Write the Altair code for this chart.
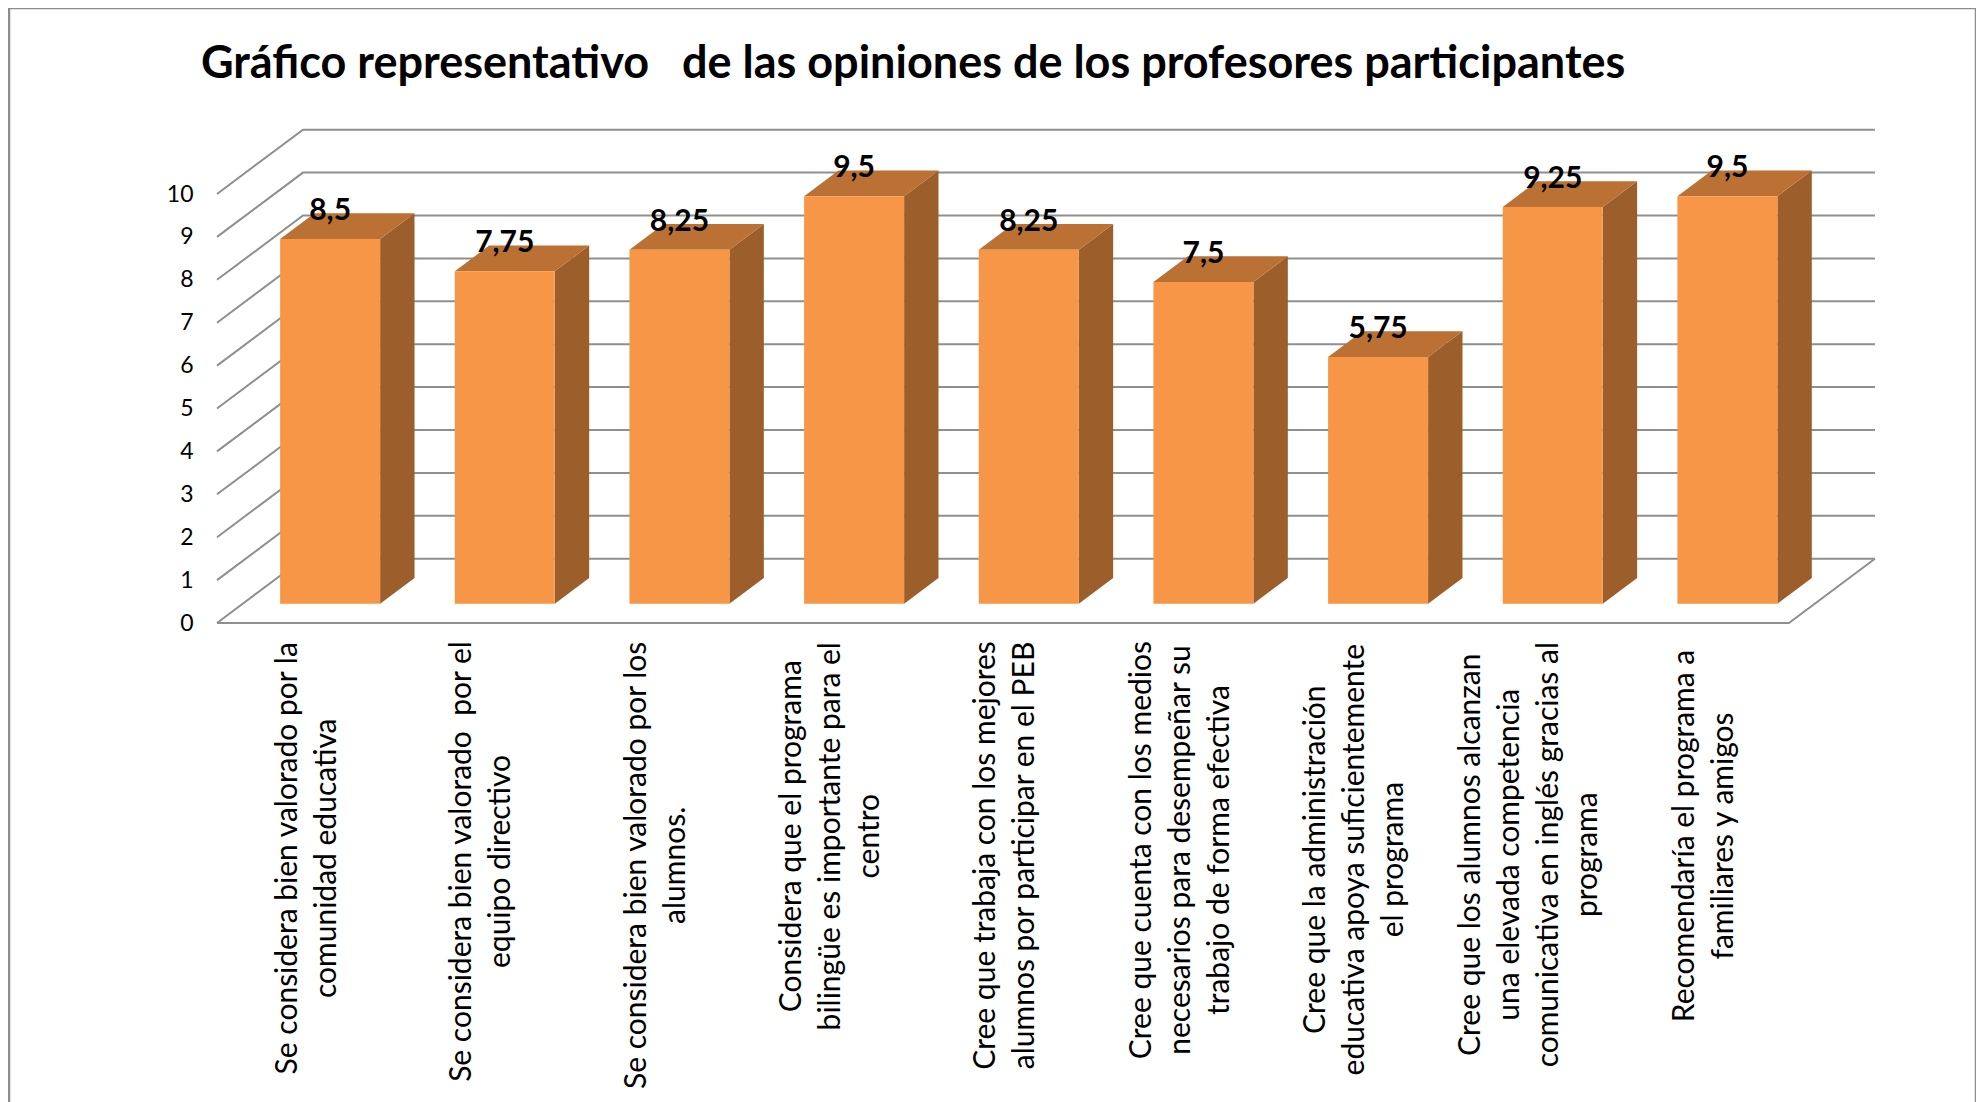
import altair as alt
import pandas as pd

title_text = "Gráfico representativo\u00a0\u00a0 de las opiniones de los profesores participantes"
values = [8.5, 7.75, 8.25, 9.5, 8.25, 7.5, 5.75, 9.25, 9.5]
value_labels = ["8,5", "7,75", "8,25", "9,5", "8,25", "7,5", "5,75", "9,25", "9,5"]
categories = [
    "Se considera bien valorado por la\ncomunidad educativa",
    "Se considera bien valorado\u00a0 por el\nequipo directivo",
    "Se considera bien valorado por los\nalumnos.",
    "Considera que el programa\nbilingüe es importante para el\ncentro",
    "Cree que trabaja con los mejores\nalumnos por participar en el PEB",
    "Cree que cuenta con los medios\nnecesarios para desempeñar su\ntrabajo de forma efectiva",
    "Cree que la administración\neducativa apoya suficientemente\nel programa",
    "Cree que los alumnos alcanzan\nuna elevada competencia\ncomunicativa en inglés gracias al\nprograma",
    "Recomendaría el programa a\nfamiliares y amigos",
]
ticks = list(range(11))

# Oblique projection of the Excel-style 3D column chart
BAND_PX, UNIT_PX = 174.66, 42.9
X0_PX, Y0_PX = 217.0, 623.0
LEFT_PX, RIGHT_PX, TOP_PX, BOTTOM_PX = 9.0, 1976.0, 8.0, 1102.0
DX, DY = 86 / BAND_PX, 64.3 / UNIT_PX          # full wall depth in data units
Z0, Z1 = 0.3, 0.7                               # depth occupied by the columns
BAR = 100 / BAND_PX
LINE_H = 39
n = len(values)

x_dom = [(LEFT_PX - X0_PX) / BAND_PX, (RIGHT_PX - X0_PX) / BAND_PX]
y_dom = [(Y0_PX - BOTTOM_PX) / UNIT_PX, (Y0_PX - TOP_PX) / UNIT_PX]
W, H = int(RIGHT_PX - LEFT_PX), int(BOTTOM_PX - TOP_PX)

xs = alt.Scale(domain=x_dom, nice=False, zero=False)
ys = alt.Scale(domain=y_dom, nice=False, zero=False)
y_axis = alt.Axis(
    values=ticks, orient="left", offset=-(X0_PX - LEFT_PX), domain=False, ticks=False, grid=False,
    labelPadding=24, labelFont="Lato", labelFontSize=23, labelColor="#000000", title=None)
X = lambda f="x": alt.X(f"{f}:Q", scale=xs, axis=None)
Y = lambda f="y": alt.Y(f"{f}:Q", scale=ys, axis=y_axis)
X2 = lambda f="x2": alt.X2(f"{f}:Q")
Y2 = lambda f="y2": alt.Y2(f"{f}:Q")
GREY = "#8f8f8f"

# frame (open at the bottom: it runs off the page)
frame = pd.DataFrame({"x": [x_dom[0], x_dom[0], x_dom[1], x_dom[1]],
                      "y": [y_dom[0], y_dom[1], y_dom[1], y_dom[0]],
                      "o": [0, 1, 2, 3]})
frame_layer = alt.Chart(frame).mark_line(color="#8c8c8c", strokeWidth=2.5, clip=False).encode(
    x=X(), y=Y(), order="o:Q")

# gridlines on back and left walls + floor outline
grid_rows = []
for t in ticks:
    grid_rows += [dict(g=f"w{t}", o=0, x=0, y=t), dict(g=f"w{t}", o=1, x=DX, y=t + DY),
                  dict(g=f"w{t}", o=2, x=n + DX, y=t + DY)]
grid_rows += [dict(g="floor", o=0, x=0, y=0), dict(g="floor", o=1, x=n, y=0),
              dict(g="floor", o=2, x=n + DX, y=DY)]
grid_layer = alt.Chart(pd.DataFrame(grid_rows)).mark_line(color=GREY, strokeWidth=2).encode(
    x=X(), y=Y(), detail="g:N", order="o:Q")

# columns
rows = []
for i, v in enumerate(values):
    left = i + (1 - BAR) / 2
    rows.append(dict(i=i, v=v,
                     fx=left + Z0 * DX, fx2=left + BAR + Z0 * DX,
                     fy=Z0 * DY, fy2=v + Z0 * DY,
                     lab=value_labels[i]))
cols = pd.DataFrame(rows)
front = alt.Chart(cols).mark_rect(color="#F79646").encode(
    x=X("fx"), x2=X2("fx2"), y=Y("fy"), y2=Y2("fy2"))

side_rows, top_rows = [], []
for i, v in enumerate(values):
    left = i + (1 - BAR) / 2
    for z in (Z0, Z1):
        side_rows.append(dict(i=i, x=left + BAR + z * DX, y=z * DY, y2=v + z * DY))
        top_rows.append(dict(i=i, x=left + z * DX, x2=left + BAR + z * DX, y=v + z * DY))
side = alt.Chart(pd.DataFrame(side_rows)).mark_area(color="#9C5F2C").encode(
    x=X(), y=Y(), y2=Y2(), detail="i:N")
top = alt.Chart(pd.DataFrame(top_rows)).mark_area(color="#BA7133", orient="horizontal").encode(
    y=Y(), x=X(), x2=X2(), detail="i:N")

value_text = alt.Chart(cols.assign(cx=lambda d: (d.fx + d.fx2) / 2)).mark_text(
    font="Lato", fontSize=30, fontWeight="bold", color="#000000", baseline="middle", dy=-28
).encode(x=X("cx"), y=Y("fy2"), text="lab:N")

# rotated category labels; the block's upper end sits just under the floor
LABEL_FONT = 30
EM = {"i": .23, "l": .23, "j": .23, "t": .34, "f": .32, "r": .36, " ": .19, "\u00a0": .19, ",": .2, ".": .2,
      "m": .83, "w": .76, "s": .41, "c": .47, "a": .5, "e": .52, "g": .5, "v": .5, "y": .5, "z": .45,
      "S": .53, "C": .63, "R": .6, "P": .57, "E": .53, "B": .6}
def est_len(s):
    return sum(EM.get(ch, .56) for ch in s) * LABEL_FONT

LABEL_TOP_PX = 648
lab_rows = []
for i, c in enumerate(categories):
    parts = c.split("\n")
    L = max(est_len(p) for p in parts)
    # Vega anchors the first line, so move the anchor to centre the block on the band
    lab_rows.append(dict(x=i + 0.5 + (3 - (len(parts) - 1) * LINE_H / 2) / BAND_PX,
                         y=(Y0_PX - (LABEL_TOP_PX + L / 2)) / UNIT_PX, t=c))
labels = alt.Chart(pd.DataFrame(lab_rows)).mark_text(
    font="Lato", fontSize=LABEL_FONT, color="#000000", angle=270, align="center", baseline="middle",
    lineBreak="\n", lineHeight=LINE_H
).encode(x=X(), y=Y(), text="t:N")

chart = alt.layer(frame_layer, grid_layer, side, top, front, labels, value_text).properties(
    width=W, height=H,
    padding={"left": 1, "top": 0, "right": 0, "bottom": 0},
    autosize=alt.AutoSizeParams(type="none", contains="content"),
    title=alt.TitleParams(title_text, anchor="start", orient="top", offset=-84, dx=197,
                          font="Lato", fontSize=45, fontWeight="bold", color="#000000"),
).configure_view(stroke=None)

chart.save("out.html", embed_options={"renderer": "svg", "actions": False})
